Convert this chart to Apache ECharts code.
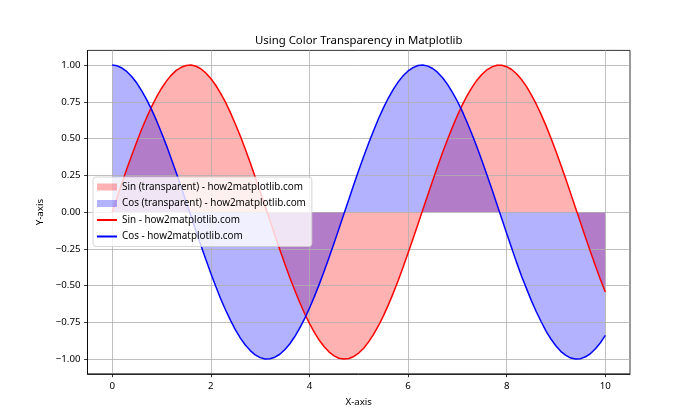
<!DOCTYPE html>
<html>
<head>
<meta charset="utf-8">
<script src="https://cdn.jsdelivr.net/npm/echarts@6/dist/echarts.min.js"></script>
<style>html,body{margin:0;padding:0;background:#fff}#c{width:700px;height:420px}</style>
</head>
<body>
<div id="c"></div>
<script>
var titleText = 'Using Color Transparency in Matplotlib';
var xName = 'X-axis';
var yName = 'Y-axis';
var seriesNames = ['Sin (transparent) - how2matplotlib.com', 'Cos (transparent) - how2matplotlib.com', 'Sin - how2matplotlib.com', 'Cos - how2matplotlib.com'];
var xTicks = [0, 2, 4, 6, 8, 10];
var yTicks = [-1, -0.75, -0.5, -0.25, 0, 0.25, 0.5, 0.75, 1];
var xs = [0,0.1,0.2,0.3,0.4,0.5,0.6,0.7,0.8,0.9,1,1.1,1.2,1.3,1.4,1.5,1.6,1.7,1.8,1.9,2,2.1,2.2,2.3,2.4,2.5,2.6,2.7,2.8,2.9,3,3.1,3.2,3.3,3.4,3.5,3.6,3.7,3.8,3.9,4,4.1,4.2,4.3,4.4,4.5,4.6,4.7,4.8,4.9,5,5.1,5.2,5.3,5.4,5.5,5.6,5.7,5.8,5.9,6,6.1,6.2,6.3,6.4,6.5,6.6,6.7,6.8,6.9,7,7.1,7.2,7.3,7.4,7.5,7.6,7.7,7.8,7.9,8,8.1,8.2,8.3,8.4,8.5,8.6,8.7,8.8,8.9,9,9.1,9.2,9.3,9.4,9.5,9.6,9.7,9.8,9.9,10];
var sinVals = [0.000,0.100,0.199,0.296,0.389,0.479,0.565,0.644,0.717,0.783,0.841,0.891,0.932,0.964,0.985,0.997,1.000,0.992,0.974,0.946,0.909,0.863,0.808,0.746,0.675,0.598,0.516,0.427,0.335,0.239,0.141,0.042,-0.058,-0.158,-0.256,-0.351,-0.443,-0.530,-0.612,-0.688,-0.757,-0.818,-0.872,-0.916,-0.952,-0.978,-0.994,-1.000,-0.996,-0.982,-0.959,-0.926,-0.883,-0.832,-0.773,-0.706,-0.631,-0.551,-0.465,-0.374,-0.279,-0.182,-0.083,0.017,0.117,0.215,0.312,0.405,0.494,0.578,0.657,0.729,0.794,0.850,0.899,0.938,0.968,0.988,0.999,0.999,0.989,0.970,0.941,0.902,0.855,0.798,0.734,0.663,0.585,0.501,0.412,0.319,0.223,0.124,0.025,-0.075,-0.175,-0.272,-0.366,-0.458,-0.544];
var cosVals = [1.000,0.995,0.980,0.955,0.921,0.878,0.825,0.765,0.697,0.622,0.540,0.454,0.362,0.267,0.170,0.071,-0.029,-0.129,-0.227,-0.323,-0.416,-0.505,-0.589,-0.666,-0.737,-0.801,-0.857,-0.904,-0.942,-0.971,-0.990,-0.999,-0.998,-0.987,-0.967,-0.936,-0.897,-0.848,-0.791,-0.726,-0.654,-0.575,-0.490,-0.401,-0.307,-0.211,-0.112,-0.012,0.087,0.187,0.284,0.378,0.469,0.554,0.635,0.709,0.776,0.835,0.886,0.927,0.960,0.983,0.997,1.000,0.993,0.977,0.950,0.914,0.869,0.815,0.754,0.685,0.608,0.526,0.439,0.347,0.252,0.155,0.055,-0.045,-0.146,-0.245,-0.342,-0.435,-0.519,-0.602,-0.678,-0.746,-0.811,-0.865,-0.911,-0.949,-0.975,-0.993,-1.000,-0.997,-0.984,-0.962,-0.930,-0.889,-0.839];

function pairs(v) { return xs.map(function (x, i) { return [x, v[i]]; }); }
var FONT = 'Noto Sans';
var chart = echarts.init(document.getElementById('c'), null, { renderer: 'canvas' });
function fmtY(v) { var s = Math.abs(v).toFixed(2); return (v < 0 ? '\u2212' : '') + s; }
function fmtX(v) { return (v < 0 ? '\u2212' : '') + Math.abs(v); }

chart.setOption({
  animation: false,
  backgroundColor: '#fff',
  textStyle: { fontFamily: FONT },
  graphic: [
    { type: 'text', z: 10, style: { text: titleText, x: 358.75, y: 41, align: 'center', verticalAlign: 'middle', font: '11.4px "' + FONT + '"', fill: '#000' } }
  ],
  grid: { left: 87.5, right: 70, top: 50.4, bottom: 46.2, show: true, borderColor: '#000', borderWidth: 0.8, z: 3 },
  legend: {
    orient: 'vertical', left: 93, top: 177, z: 10,
    backgroundColor: 'rgba(255,255,255,0.8)', borderColor: '#cccccc', borderWidth: 0.8, borderRadius: 3,
    padding: [4, 6, 4, 3], itemWidth: 20, itemHeight: 7, itemGap: 4.5,
    textStyle: { fontFamily: FONT, fontSize: 9.9, color: '#000', lineHeight: 12 },
    data: [
      { name: seriesNames[0], icon: 'rect' },
      { name: seriesNames[1], icon: 'rect' },
      { name: seriesNames[2], itemStyle: { color: 'rgba(0,0,0,0)', borderWidth: 0 } },
      { name: seriesNames[3], itemStyle: { color: 'rgba(0,0,0,0)', borderWidth: 0 } }
    ]
  },
  xAxis: {
    type: 'value', min: -0.5, max: 10.5, z: 3,
    name: xName, nameLocation: 'middle', nameGap: 23,
    nameTextStyle: { fontFamily: FONT, fontSize: 9.7, color: '#000' },
    axisLine: { show: true, onZero: false, lineStyle: { color: '#000', width: 0.8 } },
    axisTick: { show: true, length: 3.4, customValues: xTicks, lineStyle: { color: '#000', width: 0.8 } },
    axisLabel: { customValues: xTicks, margin: 7, fontFamily: FONT, fontSize: 9.7, color: '#000', formatter: fmtX },
    splitLine: { show: true, lineStyle: { color: '#b0b0b0', width: 0.8 } }
  },
  yAxis: {
    type: 'value', min: -1.1, max: 1.1, z: 3,
    name: yName, nameLocation: 'middle', nameGap: 42, nameRotate: 90,
    nameTextStyle: { fontFamily: FONT, fontSize: 9.7, color: '#000' },
    axisLine: { show: true, onZero: false, lineStyle: { color: '#000', width: 0.8 } },
    axisTick: { show: true, length: 3.4, customValues: yTicks, lineStyle: { color: '#000', width: 0.8 } },
    axisLabel: { customValues: yTicks, margin: 7, fontFamily: FONT, fontSize: 9.7, color: '#000', formatter: fmtY },
    splitLine: { show: true, lineStyle: { color: '#b0b0b0', width: 0.8 } }
  },
  series: [
    { name: seriesNames[0], type: 'line', data: pairs(sinVals), symbol: 'none', z: 2,
      itemStyle: { color: 'rgba(255,0,0,0.3)' }, lineStyle: { width: 0 }, areaStyle: { color: 'rgba(255,0,0,0.3)', opacity: 1, origin: 0 } },
    { name: seriesNames[1], type: 'line', data: pairs(cosVals), symbol: 'none', z: 2,
      itemStyle: { color: 'rgba(0,0,255,0.3)' }, lineStyle: { width: 0 }, areaStyle: { color: 'rgba(0,0,255,0.3)', opacity: 1, origin: 0 } },
    { name: seriesNames[2], type: 'line', data: pairs(sinVals), symbol: 'none', z: 4,
      itemStyle: { color: '#ff0000' }, lineStyle: { width: 1.5, color: '#ff0000' } },
    { name: seriesNames[3], type: 'line', data: pairs(cosVals), symbol: 'none', z: 4,
      itemStyle: { color: '#0000ff' }, lineStyle: { width: 1.5, color: '#0000ff' } }
  ]
});
</script>
</body>
</html>
